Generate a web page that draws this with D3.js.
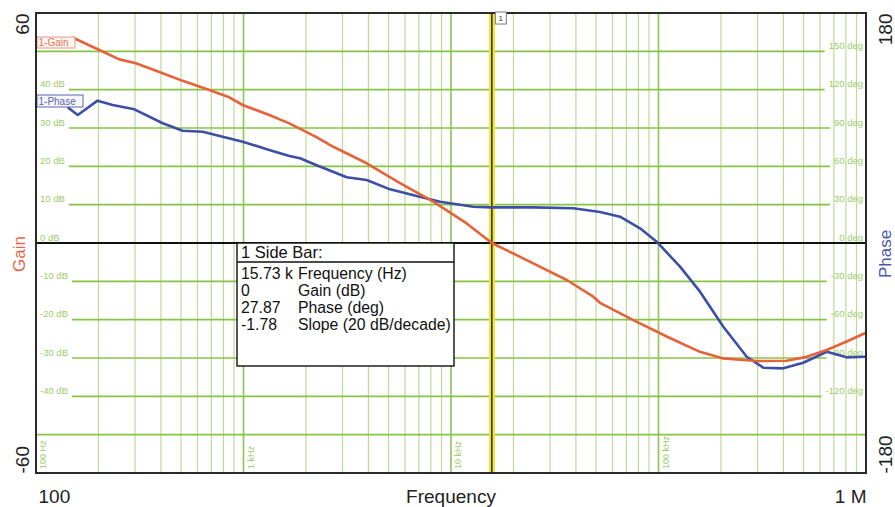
<!DOCTYPE html>
<html>
<head>
<meta charset="utf-8">
<script src="https://cdn.jsdelivr.net/npm/d3@7"></script>
<style>
  body { margin: 0; background: #fff; }
  svg { display: block; font-family: Arial, "Liberation Sans", sans-serif; }
</style>
</head>
<body>
<svg id="chart" width="895" height="507"></svg>
<script>
// Loop gain measurement: gain (dB) and phase (deg) versus frequency (Hz)
const gainFreq = [150, 202, 252, 303, 408, 509, 684, 854, 991, 1331, 1663, 2236, 2709, 3924, 5679, 8218, 11900, 15730, 24920, 36110, 48510, 52250, 75620, 109500, 158500, 205300, 297400, 414700, 517900, 646600, 807200, 1000000];
const gainDb = [53.6, 50.35, 47.9, 46.9, 44.3, 42.3, 39.9, 38.0, 36.0, 33.4, 31.2, 27.7, 25.1, 20.8, 15.6, 10.8, 5.1, 0, -5.3, -9.65, -14.0, -15.6, -20.1, -24.4, -28.4, -30.1, -30.8, -30.7, -29.7, -27.9, -25.7, -23.4];

const phaseFreq = [142, 159, 198, 234, 298, 408, 509, 636, 794, 991, 1331, 1663, 1873, 2236, 3144, 3924, 5082, 6834, 8851, 12810, 15730, 24920, 38850, 52250, 65230, 81460, 97990, 127000, 158500, 205300, 266200, 320000, 399400, 498500, 646600, 807200, 1000000];
const phaseDeg = [106.2, 100.2, 111.4, 108.0, 104.6, 93.7, 87.9, 87.1, 83.2, 79.3, 72.8, 68.1, 66.3, 61.0, 51.4, 49.3, 42.0, 36.8, 32.3, 28.4, 27.87, 27.9, 27.2, 24.3, 20.6, 11.5, 1.0, -18.5, -38.1, -65.5, -89.0, -97.6, -98.1, -93.7, -85.1, -89.5, -89.0];

// Axis ticks and grid labels
const xTickValues = [100, 1000000];
const xTickLabels = ["100", "1 M"];
const gainAxisTicks = [60, -60];
const phaseAxisTicks = [180, -180];
const gainGridTicks = [50, 40, 30, 20, 10, 0, -10, -20, -30, -40, -50];
const gainLabelTicks = [40, 30, 20, 10, 0, -10, -20, -30, -40];
const phaseLabelTicks = [150, 120, 90, 60, 30, 0, -30, -60, -90, -120];
const decadeTicks = [100, 1000, 10000, 100000];
const decadeLabels = ["100 Hz", "1 kHz", "10 kHz", "100 kHz"];

// Cursor readout
const cursorFreq = 15730;
const cursorGain = 0;
const cursorPhase = 27.87;
const cursorSlope = -1.78;
const readoutTitle = "1 Side Bar:";
const readoutLabels = ["Frequency (Hz)", "Gain (dB)", "Phase (deg)", "Slope (20 dB/decade)"];

const L = 36, R = 866, T = 13, B = 473;
const FONT = "Arial, 'Liberation Sans', sans-serif";
const svg = d3.select("#chart");

const x = d3.scaleLog().domain([100, 1000000]).range([L, R]);
const yGain = d3.scaleLinear().domain([-60, 60]).range([B, T]);
const yPhase = d3.scaleLinear().domain([-180, 180]).range([B, T]);

const gridGreen = "#88c444";
const gridLabel = "#9ccc6a";

// vertical grid (1..9 per decade)
const minor = [];
decadeTicks.forEach(d => { for (let m = 1; m <= 9; m++) minor.push(d * m); });
const grid = svg.append("g");
grid.selectAll("line.v").data(minor).join("line")
  .attr("x1", d => x(d)).attr("x2", d => x(d))
  .attr("y1", T).attr("y2", B)
  .attr("stroke", d => decadeTicks.includes(d) ? "#93c560" : "#bcdb98")
  .attr("stroke-width", d => decadeTicks.includes(d) ? 1.7 : 1.2);

// decade labels along the bottom
grid.selectAll("text.dec").data(decadeTicks).join("text")
  .attr("transform", d => `translate(${x(d) + 10},${B - 4}) rotate(-90)`)
  .attr("font-size", 9).attr("fill", gridLabel)
  .text((d, i) => decadeLabels[i]);

// horizontal grid with side labels
gainGridTicks.forEach(v => {
  const y = yGain(v);
  let x1 = L, x2 = R;
  if (gainLabelTicks.includes(v)) {
    const t = grid.append("text").attr("x", L + 4).attr("y", y - 2.5)
      .attr("font-size", 9.5).attr("fill", gridLabel).text(`${v} dB`);
    x1 = L + 4 + t.node().getComputedTextLength() + 4;
  }
  const p = v * 3;
  if (phaseLabelTicks.includes(p)) {
    const t = grid.append("text").attr("x", R - 3).attr("y", y - 2.5)
      .attr("text-anchor", "end")
      .attr("font-size", 9.5).attr("fill", gridLabel).text(`${p} deg`);
    x2 = R - 3 - t.node().getComputedTextLength() - 4;
  }
  if (v !== 0) {
    grid.append("line").attr("x1", x1).attr("x2", x2).attr("y1", y).attr("y2", y)
      .attr("stroke", gridGreen).attr("stroke-width", 1.7);
  }
});

// cursor
const cx = x(cursorFreq);
svg.append("line").attr("x1", cx).attr("x2", cx).attr("y1", T).attr("y2", B)
  .attr("stroke", "#f3e62e").attr("stroke-width", 6);
svg.append("line").attr("x1", cx).attr("x2", cx).attr("y1", T).attr("y2", B)
  .attr("stroke", "#3a3520").attr("stroke-width", 1.6);

// 0 dB reference line
svg.append("line").attr("x1", L).attr("x2", R)
  .attr("y1", yGain(0)).attr("y2", yGain(0))
  .attr("stroke", "#111").attr("stroke-width", 2);

// curves
const gainLine = d3.line().x(d => x(d[0])).y(d => yGain(d[1]));
const phaseLine = d3.line().x(d => x(d[0])).y(d => yPhase(d[1]));
svg.append("path").datum(phaseFreq.map((f, i) => [f, phaseDeg[i]]))
  .attr("d", phaseLine).attr("fill", "none")
  .attr("stroke", "#3d4ea5").attr("stroke-width", 2.6).attr("stroke-linejoin", "round");
svg.append("path").datum(gainFreq.map((f, i) => [f, gainDb[i]]))
  .attr("d", gainLine).attr("fill", "none")
  .attr("stroke", "#e5623a").attr("stroke-width", 2.6).attr("stroke-linejoin", "round");

// trace tags
function tag(x0, y0, w, h, text, stroke, fill, color) {
  svg.append("rect").attr("x", x0).attr("y", y0).attr("width", w).attr("height", h)
    .attr("fill", fill).attr("stroke", stroke).attr("stroke-width", 1);
  svg.append("text").attr("x", x0 + 1.5).attr("y", y0 + h - 2.5)
    .attr("font-size", 10).attr("fill", color).text(text);
}
tag(37, 37, 38, 11, "1-Gain", "#e39a86", "#fdf3ef", "#e07a5c");
tag(37, 95, 46, 12, "1-Phase", "#5a67b3", "#f6f6fc", "#5a67b3");

// readout box
const bx = 237, by = 243, bw = 217, bh = 123;
svg.append("rect").attr("x", bx).attr("y", by).attr("width", bw).attr("height", bh)
  .attr("fill", "#fff").attr("stroke", "#111").attr("stroke-width", 1.4);
svg.append("line").attr("x1", bx).attr("x2", bx + bw).attr("y1", by + 19).attr("y2", by + 19)
  .attr("stroke", "#111").attr("stroke-width", 1.4);
svg.append("text").attr("x", bx + 4).attr("y", by + 15).attr("font-size", 16.5)
  .attr("fill", "#111").text(readoutTitle);
const readoutValues = [
  (cursorFreq / 1000).toFixed(2) + " k",
  String(cursorGain),
  cursorPhase.toFixed(2),
  cursorSlope.toFixed(2)
];
readoutLabels.forEach((lab, i) => {
  const yy = by + 35.5 + i * 17.2;
  svg.append("text").attr("x", bx + 4).attr("y", yy).attr("font-size", 15.8)
    .attr("fill", "#111").text(readoutValues[i]);
  svg.append("text").attr("x", bx + 61).attr("y", yy).attr("font-size", 15.8)
    .attr("fill", "#111").text(lab);
});

// plot frame
svg.append("rect").attr("x", L).attr("y", T).attr("width", R - L).attr("height", B - T)
  .attr("fill", "none").attr("stroke", "#2a2a2a").attr("stroke-width", 2);

// cursor flag
svg.append("rect").attr("x", cx + 3.5).attr("y", T - 1).attr("width", 11).attr("height", 12)
  .attr("fill", "#fff").attr("stroke", "#777").attr("stroke-width", 1);
svg.append("text").attr("x", cx + 9).attr("y", T + 8).attr("text-anchor", "middle")
  .attr("font-size", 8).attr("fill", "#333").text("1");

// axes
const xAxis = svg.append("g").attr("transform", `translate(0,${B})`)
  .call(d3.axisBottom(x).tickValues(xTickValues).tickSize(0)
    .tickFormat((d, i) => xTickLabels[i]));
xAxis.select(".domain").remove();
xAxis.selectAll("text").attr("y", 30).attr("dy", 0)
  .attr("font-size", 19).attr("font-family", FONT)
  .attr("fill", "#222")
  .attr("text-anchor", (d, i) => i === 0 ? "start" : "end")
  .attr("x", (d, i) => i === 0 ? 2 : 0);

const gAxis = svg.append("g").attr("transform", `translate(${L},0)`)
  .call(d3.axisLeft(yGain).tickValues(gainAxisTicks).tickSize(0)
    .tickFormat(d => `${d}`));
gAxis.select(".domain").remove();
gAxis.selectAll("text").attr("x", 0).attr("dy", 0)
  .attr("transform", "translate(-7,0) rotate(-90)")
  .attr("font-size", 19).attr("font-family", FONT)
  .attr("fill", "#222")
  .attr("text-anchor", d => d > 0 ? "end" : "start");

const pAxis = svg.append("g").attr("transform", `translate(${R},0)`)
  .call(d3.axisRight(yPhase).tickValues(phaseAxisTicks).tickSize(0)
    .tickFormat(d => `${d}`));
pAxis.select(".domain").remove();
pAxis.selectAll("text").attr("x", 0).attr("dy", 0)
  .attr("transform", "translate(26,0) rotate(-90)")
  .attr("font-size", 19).attr("font-family", FONT)
  .attr("fill", "#222")
  .attr("text-anchor", d => d > 0 ? "end" : "start");

// axis titles
svg.append("text").attr("transform", `translate(25,${(T + B) / 2 + 11}) rotate(-90)`)
  .attr("text-anchor", "middle").attr("font-size", 17).attr("fill", "#e2674a").text("Gain");
svg.append("text").attr("transform", `translate(891,${(T + B) / 2 + 11}) rotate(-90)`)
  .attr("text-anchor", "middle").attr("font-size", 17).attr("fill", "#4a59a8").text("Phase");
svg.append("text").attr("x", 451).attr("y", 503).attr("text-anchor", "middle")
  .attr("font-size", 19).attr("fill", "#222").text("Frequency");
</script>
</body>
</html>
